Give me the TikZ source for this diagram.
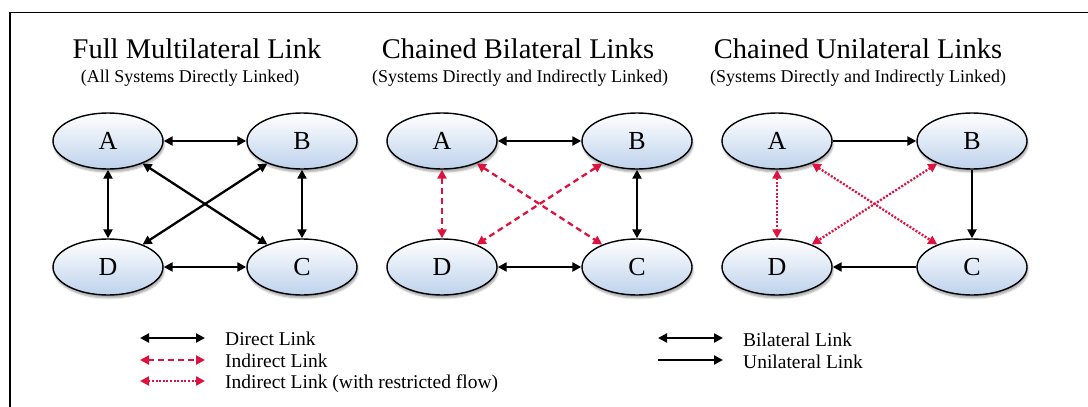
\documentclass[tikz,border=0pt]{standalone}
\usepackage{fontspec}
\setmainfont{Liberation Serif}
\usetikzlibrary{shapes.geometric,arrows.meta,shadows.blur}
\definecolor{lnkred}{RGB}{222,18,62}
\definecolor{ellbot}{RGB}{190,210,236}
\begin{document}
\begin{tikzpicture}[x=1pt,y=-1pt,
  >={Triangle[length=9pt,width=9pt]},
  sys/.style={ellipse, draw, line width=1.4pt, minimum width=110pt, minimum height=56pt,
    inner sep=0pt, top color=white, bottom color=ellbot,
    font=\fontsize{26}{26}\selectfont,
    blur shadow={shadow xshift=1pt, shadow yshift=-3pt, shadow blur steps=6, shadow opacity=35}},
  ttl/.style={font=\fontsize{28.5}{30}\selectfont, anchor=base, inner sep=0pt},
  sub/.style={font=\fontsize{18}{19}\selectfont, anchor=base, inner sep=0pt},
  leg/.style={font=\fontsize{19.5}{21}\selectfont, anchor=base west, inner sep=0pt},
  bi/.style={<->, line width=2.3pt},
  uni/.style={->, line width=2.3pt},
  ind/.style={<->, line width=2.3pt, lnkred, dash pattern=on 6pt off 4pt},
  rst/.style={<->, line width=2.3pt, lnkred, dash pattern=on 2pt off 1.6pt},
]
\useasboundingbox (0,0) rectangle (1088,407);
% frame
\draw[line width=1.5pt] (10,430) -- (10,12.5) -- (1100,12.5);

% titles
\node[ttl] (t1) at (197,58) {Full Multilateral Link};
\node[sub] (s1) at (190,82) {(All Systems Directly Linked)};
\node[ttl] (t2) at (518,58) {Chained Bilateral Links};
\node[sub] (s2) at (520,82) {(Systems Directly and Indirectly Linked)};
\node[ttl] (t3) at (858,58) {Chained Unilateral Links};
\node[sub] (s3) at (858,82) {(Systems Directly and Indirectly Linked)};

% diagram 1
\node[sys] (A1) at (108,141) {A};
\node[sys] (B1) at (302,141) {B};
\node[sys] (D1) at (108,267) {D};
\node[sys] (C1) at (302,267) {C};
\draw[bi] (A1) -- (B1);
\draw[bi] (A1) -- (D1);
\draw[bi] (B1) -- (C1);
\draw[bi] (D1) -- (C1);
\draw[bi] (A1) -- (C1);
\draw[bi] (B1) -- (D1);

% diagram 2
\node[sys] (A2) at (442,141) {A};
\node[sys] (B2) at (637,141) {B};
\node[sys] (D2) at (442,267) {D};
\node[sys] (C2) at (637,267) {C};
\draw[bi] (A2) -- (B2);
\draw[bi] (B2) -- (C2);
\draw[bi] (D2) -- (C2);
\draw[ind] (A2) -- (D2);
\draw[ind] (A2) -- (C2);
\draw[ind] (B2) -- (D2);

% diagram 3
\node[sys] (A3) at (777,141) {A};
\node[sys] (B3) at (972,141) {B};
\node[sys] (D3) at (777,267) {D};
\node[sys] (C3) at (972,267) {C};
\draw[uni] (A3) -- (B3);
\draw[uni] (B3) -- (C3);
\draw[uni] (C3) -- (D3);
\draw[rst] (A3) -- (D3);
\draw[rst] (A3) -- (C3);
\draw[rst] (B3) -- (D3);

% legend left
\coordinate (l1a) at (140,338); \coordinate (l1b) at (205,338);
\coordinate (l2a) at (140,360); \coordinate (l2b) at (205,360);
\coordinate (l3a) at (140,381); \coordinate (l3b) at (205,381);
\draw[bi] (l1a) -- (l1b);
\draw[ind] (l2a) -- (l2b);
\draw[rst] (l3a) -- (l3b);
\node[leg] (g1) at (225,345) {Direct Link};
\node[leg] (g2) at (225,367) {Indirect Link};
\node[leg] (g3) at (225,388) {Indirect Link (with restricted flow)};

% legend right
\coordinate (r1a) at (658,338); \coordinate (r1b) at (723,338);
\coordinate (r2a) at (658,360); \coordinate (r2b) at (723,360);
\draw[bi] (r1a) -- (r1b);
\draw[uni] (r2a) -- (r2b);
\node[leg] (h1) at (743,346) {Bilateral Link};
\node[leg] (h2) at (743,368) {Unilateral Link};
\end{tikzpicture}
\end{document}
